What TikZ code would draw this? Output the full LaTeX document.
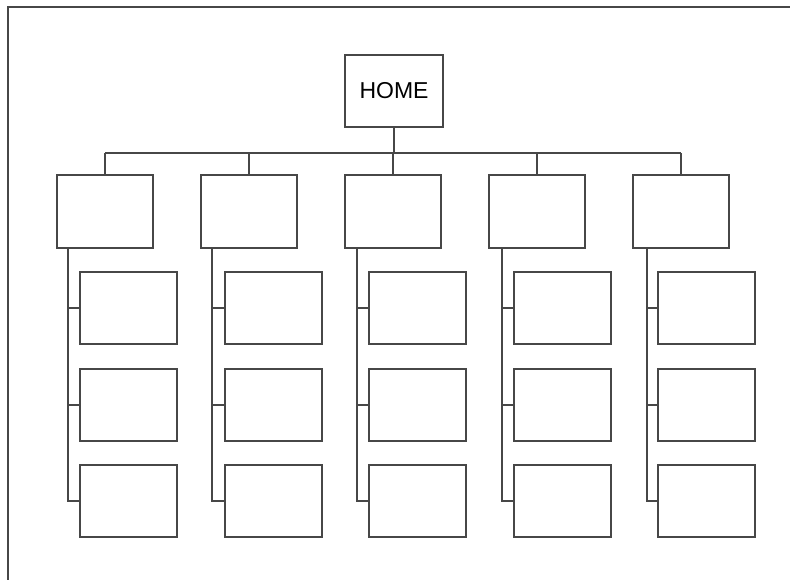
\documentclass[tikz,border=0pt]{standalone}
\usepackage{fontspec}
\setmainfont{Liberation Sans}
\begin{document}
\begin{tikzpicture}[x=1pt,y=-1pt,
  line/.style={draw=black!72,line width=1.6pt},
  boxnode/.style={line,inner sep=0pt,minimum width=96pt,minimum height=73pt},
  childbox/.style={line,inner sep=0pt,minimum width=97pt,minimum height=72pt}]
\useasboundingbox (0,0) rectangle (790,580);
% frame (left and top edges)
\coordinate (frametl) at (8,7);
\coordinate (frametr) at (790,7);
\coordinate (framebl) at (8,580);
\draw[line] (framebl) -- (frametl) -- (frametr);
% home
\node[boxnode,minimum width=98pt,minimum height=72pt,font=\fontsize{23}{26}\selectfont] (home) at (394,91) {HOME};
\coordinate (bus) at (394,153);
\draw[line] (home.south) -- (bus);
\foreach \i/\vx/\cl in {0/68/80,1/212/225,2/357/369,3/502/514,4/647/658}{
  \pgfmathsetmacro{\px}{105+144*\i}
  \pgfmathsetmacro{\cx}{\cl+48.5}
  \node[boxnode] (p\i) at (\px,211.5) {};
  \node[childbox] (c\i a) at (\cx,308) {};
  \node[childbox] (c\i b) at (\cx,405) {};
  \node[childbox] (c\i c) at (\cx,501) {};
  \coordinate (v\i) at (\vx,248);
  \draw[line] (p\i.north) -- (p\i.north |- bus);
  \draw[line] (v\i) |- (c\i c.west);
  \draw[line] (v\i |- c\i a.west) -- (c\i a.west);
  \draw[line] (v\i |- c\i b.west) -- (c\i b.west);
}
\draw[line] (p0.north |- bus) -- (p4.north |- bus);
\end{tikzpicture}
\end{document}
